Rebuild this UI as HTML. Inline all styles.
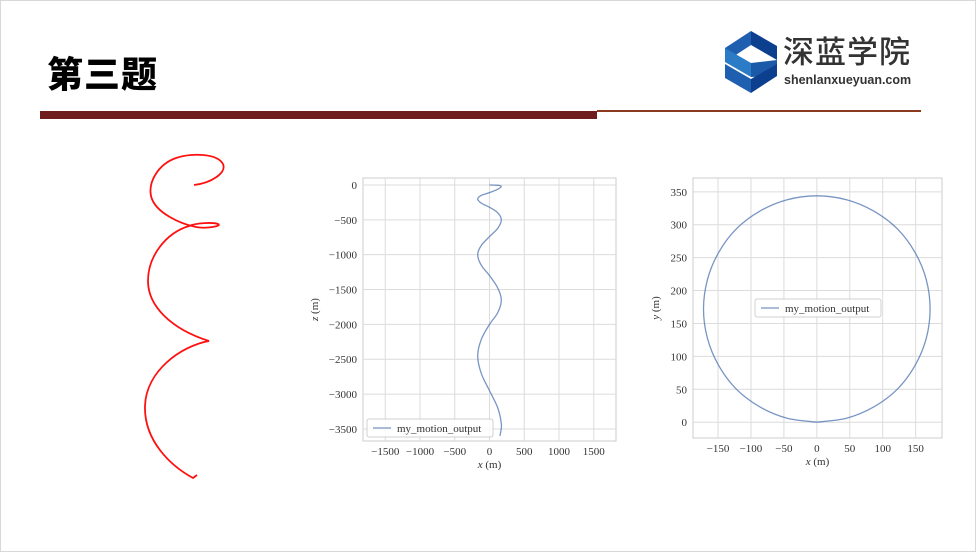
<!DOCTYPE html>
<html><head><meta charset="utf-8">
<style>
html,body{margin:0;padding:0;background:#fff;}
#slide{position:relative;width:976px;height:552px;overflow:hidden;background:#fff;box-sizing:border-box;border:1px solid #d8d8d8;}
.abs{position:absolute;}
svg text{font-family:"Liberation Serif","DejaVu Serif",serif;}
</style></head>
<body>
<div id="slide">
  <div class="abs" style="left:46px;top:52px;font-family:'Liberation Sans','Noto Sans CJK SC',sans-serif;font-weight:900;font-size:36px;letter-spacing:1px;color:#000;line-height:44px;">第三题</div>
  <div class="abs" style="left:39px;top:110px;width:557px;height:8px;background:#6e1c1c;"></div>
  <div class="abs" style="left:596px;top:109px;width:324px;height:2px;background:#8b3a1e;"></div>
  <svg class="abs" style="left:720px;top:29px" width="58" height="64" viewBox="0 0 58 64">
    <polygon points="30,1 56,16 56,30 30,15" fill="#0d3f8f"/>
    <polygon points="30,1 4,18 4,32 30,15" fill="#1f5fb0"/>
    <polygon points="4,18 30,33 30,47 4,32" fill="#2a7cc7"/>
    <polygon points="30,33 56,30 56,46 30,47" fill="#1a5aa8"/>
    <polygon points="56,46 30,63 30,49 56,34" fill="#0d3f8f"/>
    <polygon points="4,34 30,49 30,63 4,48" fill="#1f5fb0"/>
  </svg>
  <div class="abs" style="left:782px;top:33px;font-family:'Liberation Sans','Noto Sans CJK SC',sans-serif;font-size:31px;font-weight:500;color:#333;line-height:38px;letter-spacing:1px;">深蓝学院</div>
  <div class="abs" style="left:783px;top:72px;font-family:'Liberation Sans',sans-serif;font-size:12.5px;font-weight:bold;color:#333;line-height:14px;">shenlanxueyuan.com</div>

  <svg class="abs" style="left:0;top:0" width="300" height="552">
    <path d="M193,184 C210,182 226,172 222,163 C216,152 190,152 175,157 C158,163 147,180 150,195 C154,212 180,223 195,226 C205,228 222,225 217,223 C212,221 195,222 188,225 C165,232 147,255 147,280 C147,305 170,328 208,340 C180,345 145,370 144,405 C143,440 170,465 192,477 L196,474" fill="none" stroke="#ff1010" stroke-width="1.8"/>
  </svg>

  <svg id="chart1" class="abs" style="left:0;top:0" width="976" height="552"></svg>
  <svg id="chart2" class="abs" style="left:0;top:0" width="976" height="552"></svg>
</div>
<script>
// Chart 1: x vs z
const xzXValues = [0,120,170,120,0,-120,-170,-120,0,120,170,120,0,-120,-170,-120,0,120,170,120,0,-120,-170,-120,0,120,170,165,150];
const xzZValues = [0,-5,-20,-60,-110,-150,-200,-260,-320,-400,-500,-620,-740,-870,-1000,-1150,-1300,-1480,-1650,-1830,-2000,-2220,-2450,-2700,-2950,-3200,-3420,-3520,-3600];
const xzXTicks = [-1500,-1000,-500,0,500,1000,1500];
const xzYTicks = [0,-500,-1000,-1500,-2000,-2500,-3000,-3500];
// Chart 2: x vs y
const xyXValues = [0,45,86,122,149,166,172,166,149,122,86,45,0,-45,-86,-122,-149,-166,-172,-166,-149,-122,-86,-45,0];
const xyYValues = [0,6,23,50,86,127,172,217,258,294,321,338,344,338,321,294,258,217,172,127,86,50,23,6,0];
const xyXTicks = [-150,-100,-50,0,50,100,150];
const xyYTicks = [0,50,100,150,200,250,300,350];
const seriesName = "my_motion_output";

const NS="http://www.w3.org/2000/svg";
function mk(parent,tag,attrs){const e=document.createElementNS(NS,tag);for(const k in attrs)e.setAttribute(k,attrs[k]);parent.appendChild(e);return e;}
function smoothPath(pts){
  let d=`M${pts[0][0].toFixed(1)},${pts[0][1].toFixed(1)}`;
  for(let i=0;i<pts.length-1;i++){
    const p0=pts[Math.max(0,i-1)],p1=pts[i],p2=pts[i+1],p3=pts[Math.min(pts.length-1,i+2)];
    const c1=[p1[0]+(p2[0]-p0[0])/6,p1[1]+(p2[1]-p0[1])/6];
    const c2=[p2[0]-(p3[0]-p1[0])/6,p2[1]-(p3[1]-p1[1])/6];
    d+=` C${c1[0].toFixed(1)},${c1[1].toFixed(1)} ${c2[0].toFixed(1)},${c2[1].toFixed(1)} ${p2[0].toFixed(1)},${p2[1].toFixed(1)}`;
  }
  return d;
}
function drawChart(svg,box,xr,yr,xt,yt,xs,ys,xlabel,ylabel,legendPos,ylabX){
  const sx=v=>box.l+(v-xr[0])/(xr[1]-xr[0])*(box.r-box.l);
  const sy=v=>box.b-(v-yr[0])/(yr[1]-yr[0])*(box.b-box.t);
  const bg=mk(svg,'rect',{x:box.l,y:box.t,width:box.r-box.l,height:box.b-box.t,fill:'#fff',stroke:'#cccccc','stroke-width':1});
  
  
  xt.forEach(v=>{
    const g=mk(svg,'line',{x1:sx(v),x2:sx(v),y1:box.t,y2:box.b,stroke:'#dcdcdc','stroke-width':1});
    
    
    const t=mk(svg,'text',{x:sx(v),y:box.b+14,'font-size':11,'text-anchor':'middle',fill:'#333'});
    t.textContent=(v<0?'\u2212'+(-v):v);
    
    
  });
  yt.forEach(v=>{
    const g=mk(svg,'line',{x1:box.l,x2:box.r,y1:sy(v),y2:sy(v),stroke:'#dcdcdc','stroke-width':1});
    
    
    const t=mk(svg,'text',{x:box.l-6,y:sy(v)+4,'font-size':11,'text-anchor':'end',fill:'#333'});
    t.textContent=(v<0?'\u2212'+(-v):v);
    
    
  });
  const pts=xs.map((x,i)=>[sx(x),sy(ys[i])]);
  const line=mk(svg,'path',{d:smoothPath(pts),fill:'none',stroke:'#4c72b0','stroke-opacity':0.75,'stroke-width':1.3});
  
  
  const xl=mk(svg,'text',{x:(box.l+box.r)/2,y:box.b+27,'font-size':11,'text-anchor':'middle',fill:'#333'});
  xl.innerHTML='<tspan font-style="italic">x</tspan> (m)';
  
  
  const cy=(box.t+box.b)/2;
  const yl=mk(svg,'text',{x:ylabX,y:cy,'font-size':11,'text-anchor':'middle',fill:'#333',transform:`rotate(-90 ${ylabX} ${cy})`});
  yl.innerHTML='<tspan font-style="italic">'+ylabel+'</tspan> (m)';
  
  
  const lg=mk(svg,'g',{});
  
  
  mk(lg,'rect',{x:legendPos[0],y:legendPos[1],width:126,height:18,rx:2,fill:'#fff','fill-opacity':0.85,stroke:'#d0d0d0'});
  mk(lg,'line',{x1:legendPos[0]+6,x2:legendPos[0]+24,y1:legendPos[1]+9,y2:legendPos[1]+9,stroke:'#4c72b0','stroke-opacity':0.75,'stroke-width':1.3});
  const lt=mk(lg,'text',{x:legendPos[0]+30,y:legendPos[1]+13,'font-size':11,fill:'#333'});
  lt.textContent=seriesName;
  
  
}
drawChart(document.getElementById('chart1'),{l:362,r:615,t:177,b:440},[-1820,1820],[-3673,100],xzXTicks,xzYTicks,xzXValues,xzZValues,'x','z',[366,418],317);
drawChart(document.getElementById('chart2'),{l:692,r:941,t:177,b:437},[-188,190],[-24,371],xyXTicks,xyYTicks,xyXValues,xyYValues,'x','y',[754,298],658);
</script>
</body></html>
